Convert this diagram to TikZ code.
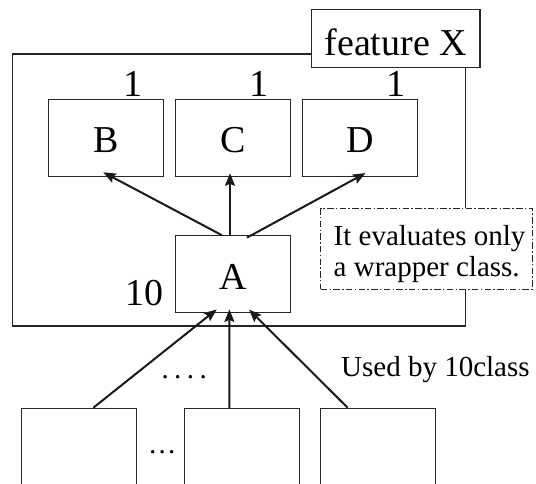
\documentclass[tikz,border=0pt]{standalone}
\usepackage{fontspec}
\setmainfont{Liberation Serif}
\usetikzlibrary{arrows.meta,calc}
\begin{document}
\begin{tikzpicture}[x=1pt,y=-1pt,
  box/.style={draw=black!85, line width=1.1pt, fill=white, inner sep=0pt},
  cls/.style={box, minimum width=115pt, minimum height=76.7pt,
    font=\fontsize{38}{40}\selectfont, text height=30pt, text depth=0pt},
  lowbox/.style={box, minimum width=114.7pt, minimum height=120pt},
  arr/.style={line width=2pt, draw=black!90,
    -{Stealth[length=12.5pt,width=10pt,inset=2pt]}},
  big/.style={font=\fontsize{38}{40}\selectfont, inner sep=0pt},
  mid/.style={font=\fontsize{29}{31}\selectfont, inner sep=0pt},
]
\useasboundingbox (0,0) rectangle (536,483);
\begin{scope}
\clip (0,0) rectangle (536,483);
% frame of the feature
\node[box, minimum width=453.4pt, minimum height=272pt] (frame) at (239,190) {};
\node[box, minimum width=168.5pt, minimum height=58.3pt,
      font=\fontsize{38}{40}\selectfont, text height=33.6pt, text depth=0pt]
      (feat) at (395.7,38.2) {feature X};
% classes
\node[cls] (B) at (105.8,137.7) {B};
\node[cls] (C) at (233,137.7) {C};
\node[cls] (D) at (360,137.7) {D};
\node[cls] (A) at (233,274) {A};
% counts
\node[big, anchor=base] (nB) at (133,96.5) {1};
\node[big, anchor=base] (nC) at (259,96.5) {1};
\node[big, anchor=base] (nD) at (396,96.7) {1};
\node[big, anchor=base] (nA) at (144.3,305.7) {10};
% note
\node[box, draw=black!85, line width=1.4pt,
      dash pattern=on 6.5pt off 2.3pt on 1.5pt off 2.3pt,
      minimum width=211.6pt, minimum height=81pt] (note) at (426.5,248.8) {};
\node[mid, anchor=north west, align=left] (notetxt) at (333.5,225.2)
      {It evaluates only\\a wrapper class.};
% users
\node[lowbox] (u1) at (78.7,468.3) {};
\node[lowbox] (u2) at (242.2,468.3) {};
\node[lowbox] (u3) at (377.9,468.3) {};
\node[mid, anchor=base] (dots4) at (184.2,378.5)
      {.\hspace{5.4pt}.\hspace{5.4pt}.\hspace{5.4pt}.};
\node[mid, anchor=base] (dots3) at (162.3,453.5)
      {.\hspace{2.2pt}.\hspace{2.2pt}.};
\node[mid, anchor=base west] (used) at (341,376.7) {Used by 10class};
% arrows from A up
\draw[arr] ($(A.north)+(-11.3,0)$) -- ($(B.south)+(-2.5,-4.3)$);
\draw[arr] ($(A.north)+(-3,0)$) -- ($(C.south)+(-3,-3.3)$);
\draw[arr] ($(A.north)+(14,2.5)$) -- ($(D.south)+(5.5,-3.5)$);
% arrows into A
\draw[arr] ($(u1.north)+(14.6,0)$) -- ($(A.south)+(-16.3,-3.5)$);
\draw[arr] ($(u2.north)+(-12.9,0)$) -- ($(A.south)+(-3.6,-3.5)$);
\draw[arr] ($(u3.north)+(-30.2,0)$) -- ($(A.south)+(16,-3.3)$);
\end{scope}
\end{tikzpicture}
\end{document}
